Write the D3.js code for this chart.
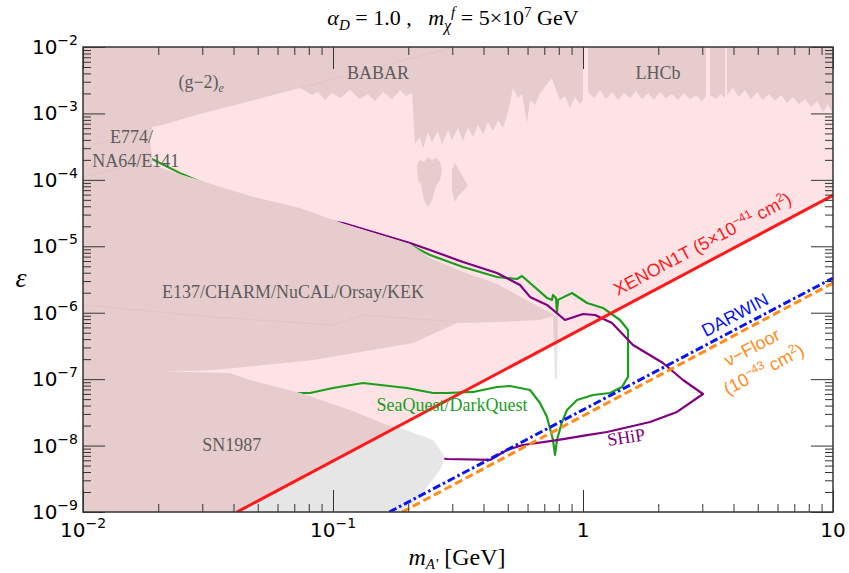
<!DOCTYPE html>
<head>
<meta charset="utf-8">
<style>
  body { margin: 0; background: #fff; }
  .region-label { font-family: "Liberation Serif", serif; font-size: 18px; fill: #5c5c5c; }
  .tick-label { font-family: "DejaVu Sans", sans-serif; font-size: 20px; fill: #000; }
  .line-label { font-family: "Liberation Sans", sans-serif; font-size: 18px; }
</style>
<script src="https://d3js.org/d3.v7.min.js"></script>
</head>
<body>
<svg width="849" height="573"></svg>
<script>
// ---- data: [m_A' (GeV), epsilon] ----
var xenon1t = [[0.0413, 1e-9], [10, 5.86e-5]];
var darwin  = [[0.168, 1e-9], [10, 3.33e-6]];
var nuFloor = [[0.189, 1e-9], [10, 2.8e-6]];

var xenonRegion = [[0.0413, 1e-9], [10, 5.86e-5], [10, 1e-2], [0.01, 1e-2], [0.01, 1e-9]];

var seaquest = [[0.0169,2.54e-4],[0.0182,2.21e-4],[0.0249,1.22e-4],[0.0466,4.49e-5],[0.0887,2.17e-5],
  [0.1406,1.58e-5],[0.2032,1.05e-5],[0.2443,7.40e-6],[0.3311,4.88e-6],[0.4529,3.45e-6],[0.5445,3.22e-6],
  [0.5702,3.57e-6],[0.7178,1.67e-6],[0.7516,1.56e-6],[0.7586,1.85e-6],[0.7798,1.67e-6],[0.787,1.03e-6],
  [0.7943,1.56e-6],[0.9036,1.98e-6],[1.038,1.40e-6],[1.202,1.18e-6],[1.406,7.77e-7],[1.514,5.50e-7],
  [1.514,1.08e-7],[1.432,7.62e-8],[1.282,6.19e-8],[1.096,5.77e-8],[0.9462,4.85e-8],[0.863,3.44e-8],
  [0.8241,2.26e-8],[0.787,1.21e-8],[0.7727,7.22e-9],[0.7586,1.21e-8],[0.7178,2.69e-8],[0.673,4.38e-8],
  [0.6138,6.87e-8],[0.5105,7.88e-8],[0.4529,7.62e-8],[0.3631,6.41e-8],[0.2858,6.19e-8],[0.2512,6.19e-8],
  [0.1977,7.36e-8],[0.1318,8.75e-8],[0.1,7.36e-8],[0.0809,6.19e-8],[0.056,6.19e-8]];

var ship = [[0.0738,2.86e-5],[0.1096,2.24e-5],[0.2032,1.12e-5],[0.2443,8.79e-6],[0.3311,5.80e-6],
  [0.4529,3.96e-6],[0.5598,2.61e-6],[0.6138,1.73e-6],[0.7178,1.31e-6],[0.8472,7.77e-7],[1.0,9.57e-7],
  [1.117,9.24e-7],[1.306,7.00e-7],[1.585,3.27e-7],[2.089,1.75e-7],[2.512,9.70e-8],[3.02,5.97e-8],
  [2.377,3.21e-8],[1.854,2.26e-8],[1.247,1.60e-8],[1.038,1.44e-8],[0.787,1.21e-8],[0.5754,1.02e-8],
  [0.4966,8.59e-9],[0.4246,6.07e-9],[0.2858,6.28e-9],[0.2679,6.50e-9]];

// (g-2)e + BABAR
var g2Babar = [[0.01,1e-2],[0.01,6.25e-4],[0.0189,6.25e-4],[0.0207,6.7e-4],[0.0294,9.8e-4],[0.0466,1.54e-3],
  [0.0738,2.42e-3],[0.0824,1.89e-3],[0.0871,2.10e-3],[0.0929,1.59e-3],[0.0991,2.03e-3],[0.1067,1.71e-3],
  [0.1169,2.25e-3],[0.1282,1.65e-3],[0.138,1.96e-3],[0.1472,1.54e-3],[0.1585,2.10e-3],[0.1722,1.65e-3],
  [0.1854,2.25e-3],[0.1959,1.83e-3],[0.207,2.03e-3],[0.2128,3.59e-4],[0.2228,4.27e-4],[0.2291,3.02e-4],
  [0.2399,5.25e-4],[0.2489,3.72e-4],[0.263,5.44e-4],[0.2729,3.35e-4],[0.2884,5.64e-4],[0.2992,3.98e-4],
  [0.3162,6.04e-4],[0.3311,3.85e-4],[0.3467,6.25e-4],[0.3631,4.42e-4],[0.3802,6.70e-4],[0.3981,4.90e-4],
  [0.4169,7.43e-4],[0.4365,5.44e-4],[0.4571,7.96e-4],[0.4786,6.04e-4],[0.5012,1.05e-3],[0.5248,2.42e-3],
  [0.5495,1.71e-3],[0.5702,1.96e-3],[0.597,7.18e-4],[0.6138,1.59e-3],[0.6427,1.34e-3],[0.673,2.03e-3],
  [0.7516,3.41e-3],[0.7798,2.25e-3],[0.8091,1.59e-3],[0.8472,1.83e-3],[0.8872,1.21e-3],[0.929,1.77e-3],
  [0.9727,1.39e-3],[1.0,1.59e-3],[1.0,1e-2]];
var babarIslandA = [[0.2168,1.67e-4],[0.2228,1.99e-4],[0.2312,1.86e-4],[0.2399,2.21e-4],[0.2489,1.99e-4],
  [0.2582,2.13e-4],[0.2679,1.86e-4],[0.2729,1.41e-4],[0.2679,9.95e-5],[0.2582,8.09e-5],[0.2489,4.98e-5],
  [0.2399,3.90e-5],[0.2312,4.98e-5],[0.2249,8.37e-5],[0.2188,9.95e-5]];
var babarIslandB = [[0.2992,1.41e-4],[0.3076,1.79e-4],[0.3162,1.51e-4],[0.3467,8.09e-5],[0.3162,5.71e-5],
  [0.3076,4.64e-5],[0.2992,7.03e-5]];

// LHCb
var lhcbA = [[1.047,1e-2],[1.047,2.10e-3],[1.107,1.71e-3],[1.169,2.25e-3],[1.236,1.65e-3],[1.306,2.10e-3],
  [1.38,1.59e-3],[1.459,2.03e-3],[1.542,1.71e-3],[1.629,2.18e-3],[1.722,1.65e-3],[1.82,2.03e-3],
  [1.923,1.59e-3],[2.032,2.10e-3],[2.148,1.71e-3],[2.27,1.96e-3],[2.399,1.59e-3],[2.535,2.03e-3],
  [2.679,1.65e-3],[2.831,1.89e-3],[2.992,1.54e-3],[3.105,1.83e-3],[3.105,1e-2]];
var lhcbB = [[3.221,1e-2],[3.221,1.89e-3],[3.4,1.65e-3],[3.55,1.96e-3],[3.698,1.71e-3],[3.698,1e-2]];
var lhcbC = [[3.767,1e-2],[3.767,1.89e-3],[3.981,2.42e-3],[4.207,1.77e-3],[4.446,2.25e-3],[4.699,1.65e-3],
  [4.966,2.10e-3],[5.248,1.59e-3],[5.546,1.96e-3],[5.861,1.54e-3],[6.194,1.89e-3],[6.546,1.44e-3],
  [6.918,1.77e-3],[7.311,1.39e-3],[7.727,1.65e-3],[8.166,1.25e-3],[8.63,1.54e-3],[9.12,1.05e-3],
  [9.55,1.39e-3],[10,9.47e-4],[10,1e-2]];

// E774/NA64/E141 + E137/CHARM/NuCAL/Orsay/KEK
var beamDump = [[0.01,6.70e-4],[0.0189,6.25e-4],[0.0185,3.98e-4],[0.0189,2.37e-4],[0.0189,1.67e-4],
  [0.0249,1.18e-4],[0.0466,5.71e-5],[0.0738,3.77e-5],[0.1096,2.20e-5],[0.2032,1.08e-5],[0.2443,6.67e-6],
  [0.3311,4.10e-6],[0.4529,2.70e-6],[0.6138,1.45e-6],[0.7727,9.24e-7],[0.673,7.77e-7],[0.4656,7.25e-7],
  [0.3133,7.00e-7],[0.2089,3.50e-7],[0.0832,1.94e-7],[0.0331,1.37e-7],[0.01,1.16e-7]];
var sn1987 = [[0.01,1.37e-7],[0.0387,1.24e-7],[0.0466,9.70e-8],[0.0738,6.19e-8],[0.1169,3.44e-8],
  [0.1644,2.04e-8],[0.1854,1.84e-8],[0.2512,1.21e-8],[0.2805,6.73e-9],[0.2679,4.29e-9],[0.2168,1.52e-9],
  [0.1854,1e-9],[0.01,1e-9]];
var spike = [[0.7586,8.93e-7],[0.7943,8.93e-7],[0.787,1.04e-7],[0.7727,9.7e-8]];

var overlapLines = [
  [[0.01,3.02e-4],[0.0189,6.04e-4]],
  [[0.01,1.10e-4],[0.0189,1.99e-4]],
  [[0.01,1.31e-6],[0.0331,8.63e-7],[0.1,6.53e-7],[0.1318,9.24e-7],[0.3133,7.25e-7]],
  [[0.0738,2.42e-3],[0.2938,9.66e-3]]];

var xTicks = [0.01, 0.1, 1, 10];
var xTickText = [["10","−2"],["10","−1"],["1",""],["10",""]];
var yTicks = [1e-9, 1e-8, 1e-7, 1e-6, 1e-5, 1e-4, 1e-3, 1e-2];
var yTickExp = ["−9","−8","−7","−6","−5","−4","−3","−2"];

// ---- setup ----
var svg = d3.select("svg");
var x = d3.scaleLog().domain([0.01, 10]).range([83, 833]);
var y = d3.scaleLog().domain([1e-9, 1e-2]).range([512, 47]);
var line = d3.line().x(function(d) { return x(d[0]); }).y(function(d) { return y(d[1]); });
var poly = function(d) { return line(d) + "Z"; };

var defs = svg.append("defs");
defs.append("clipPath").attr("id", "plotClip").append("rect")
  .attr("x", 83).attr("y", 47).attr("width", 750).attr("height", 465);
defs.append("clipPath").attr("id", "xeClip").append("path").attr("d", poly(xenonRegion));

var plot = svg.append("g").attr("clip-path", "url(#plotClip)");

plot.append("path").attr("d", poly(xenonRegion)).attr("fill", "#fde3e5");

// projection curves sit under the excluded regions
plot.append("path").attr("d", line(seaquest)).attr("fill", "none")
  .attr("stroke", "#1c9e1c").attr("stroke-width", 2.2).attr("stroke-linejoin", "round");
plot.append("path").attr("d", line(ship)).attr("fill", "none")
  .attr("stroke", "#800080").attr("stroke-width", 2.2).attr("stroke-linejoin", "round");

var regions = [g2Babar, babarIslandA, babarIslandB, lhcbA, lhcbB, lhcbC, beamDump, sn1987, spike];
plot.append("g").selectAll("path").data(regions).join("path")
  .attr("d", poly).attr("fill", "#e6e6e6");
var mauve = plot.append("g").attr("clip-path", "url(#xeClip)");
mauve.selectAll("path").data(regions).join("path")
  .attr("d", poly).attr("fill", "#e7ccce");
mauve.selectAll("path.ov").data(overlapLines).join("path").attr("class", "ov")
  .attr("d", line).attr("fill", "none").attr("stroke", "#dfc3c6").attr("stroke-width", 1);

plot.append("path").attr("d", line(xenon1t)).attr("stroke", "#ff1a1a").attr("stroke-width", 3).attr("fill", "none");
plot.append("path").attr("d", line(darwin)).attr("stroke", "#0a14f0").attr("stroke-width", 3)
  .attr("stroke-dasharray", "8,3,2.5,3").attr("fill", "none");
plot.append("path").attr("d", line(nuFloor)).attr("stroke", "#ff8c1a").attr("stroke-width", 3)
  .attr("stroke-dasharray", "8,4").attr("fill", "none");

// ---- text helpers ----
function rich(text, parts) {
  var cur = 0;
  parts.forEach(function(p) {
    var off = p.off || 0;
    var ts = text.append("tspan").attr("dy", off - cur).text(p.t);
    cur = off;
    if (p.fs) ts.attr("font-size", p.fs);
    if (p.it) ts.attr("font-style", "italic");
  });
}

function onLine(seg, m) {
  var a = seg[0], b = seg[1];
  var k = Math.log(b[1] / a[1]) / Math.log(b[0] / a[0]);
  return [x(m), y(a[1] * Math.pow(m / a[0], k))];
}
function lineAngle(seg) {
  return Math.atan2(y(seg[1][1]) - y(seg[0][1]), x(seg[1][0]) - x(seg[0][0])) * 180 / Math.PI;
}
function lineLabel(seg, m, dy, color, parts, fs) {
  var p = onLine(seg, m);
  var t = svg.append("text").attr("class", "line-label")
    .attr("transform", "translate(" + p[0] + "," + p[1] + ") rotate(" + lineAngle(seg) + ")")
    .attr("text-anchor", "middle").attr("y", dy).attr("fill", color)
    .style("white-space", "pre");
  if (fs) t.attr("font-size", fs);
  rich(t, parts);
}

lineLabel(xenon1t, 3.25, -12, "#ff1a1a",
  [{t:"XENON1T (5×10"},{t:"−41",off:-7,fs:12},{t:" cm"},{t:"2",off:-7,fs:12},{t:")"}]);
lineLabel(darwin, 4.29, -7, "#0a14f0", [{t:"DARWIN"}], 17);
lineLabel(nuFloor, 4.37, 25, "#ff8c1a", [{t:"ν−Floor"}], 17);
lineLabel(nuFloor, 4.37, 50, "#ff8c1a",
  [{t:"(10"},{t:"−43",off:-7,fs:12},{t:" cm"},{t:"2",off:-7,fs:12},{t:")"}], 17);

// region labels
var regionLabels = [
  {m:0.0297, e:2.42e-3, a:"middle", parts:[{t:"(g−2)"},{t:"e",off:4,fs:12,it:true}]},
  {m:0.1514, e:3.30e-3, a:"middle", parts:[{t:"BABAR"}]},
  {m:1.995, e:3.30e-3, a:"middle", parts:[{t:"LHCb"}]},
  {m:0.01282, e:3.59e-4, a:"start", parts:[{t:"E774/"}]},
  {m:0.0109, e:1.56e-4, a:"start", parts:[{t:"NA64/E141"}]},
  {m:0.0692, e:1.67e-6, a:"middle", parts:[{t:"E137/CHARM/NuCAL/Orsay/KEK"}]},
  {m:0.0394, e:8.28e-9, a:"middle", parts:[{t:"SN1987"}]}
];
regionLabels.forEach(function(d) {
  var t = svg.append("text").attr("class", "region-label")
    .attr("x", x(d.m)).attr("y", y(d.e)).attr("text-anchor", d.a);
  rich(t, d.parts);
});

svg.append("text").attr("class", "region-label").attr("x", x(0.2992)).attr("y", y(3.32e-8))
  .attr("text-anchor", "middle").style("fill", "#1c9e1c").text("SeaQuest/DarkQuest");
svg.append("text").attr("class", "region-label")
  .attr("transform", "translate(" + x(1.5) + "," + y(1.09e-8) + ") rotate(-9)")
  .attr("text-anchor", "middle").style("fill", "#800080").text("SHiP");

// ---- axes ----
function isMajor(v) { var l = Math.log10(v); return Math.abs(l - Math.round(l)) < 1e-6; }
var axisColor = "#333";

function styleAxis(g, attr, sign) {
  g.select(".domain").remove();
  g.selectAll(".tick line").attr("stroke", axisColor)
    .attr(attr, function(d) { return sign * (isMajor(d) ? 22 : 8); });
}

svg.append("g").attr("transform", "translate(0,512)")
  .call(d3.axisBottom(x).tickValues(x.ticks()).tickSize(-8).tickFormat(""))
  .call(styleAxis, "y2", -1);
svg.append("g").attr("transform", "translate(0,47)")
  .call(d3.axisTop(x).tickValues(x.ticks()).tickSize(-8).tickFormat(""))
  .call(styleAxis, "y2", 1);
svg.append("g").attr("transform", "translate(83,0)")
  .call(d3.axisLeft(y).tickValues(y.ticks()).tickSize(-8).tickFormat(""))
  .call(styleAxis, "x2", 1);
svg.append("g").attr("transform", "translate(833,0)")
  .call(d3.axisRight(y).tickValues(y.ticks()).tickSize(-8).tickFormat(""))
  .call(styleAxis, "x2", -1);

svg.append("rect").attr("x", 83).attr("y", 47).attr("width", 750).attr("height", 465)
  .attr("fill", "none").attr("stroke", axisColor).attr("stroke-width", 1.5);

xTicks.forEach(function(v, i) {
  var t = svg.append("text").attr("class", "tick-label")
    .attr("x", x(v)).attr("y", 537).attr("text-anchor", "middle");
  var parts = [{t: xTickText[i][0]}];
  if (xTickText[i][1]) parts.push({t: xTickText[i][1], off:-9, fs:14});
  rich(t, parts);
});
yTicks.forEach(function(v, i) {
  var t = svg.append("text").attr("class", "tick-label")
    .attr("x", 78).attr("y", y(v) + 7).attr("text-anchor", "end");
  rich(t, [{t:"10"},{t:yTickExp[i], off:-9, fs:14}]);
});

// axis titles
svg.append("text").attr("x", 21).attr("y", 287).attr("text-anchor", "middle")
  .style("font-family", "Liberation Serif, serif").style("font-size", "28px").style("font-style", "italic")
  .text("ε");
var xt = svg.append("text").attr("x", 457).attr("y", 565).attr("text-anchor", "middle")
  .style("font-family", "Liberation Serif, serif").style("font-size", "24px").style("white-space", "pre");
rich(xt, [{t:"m", it:true},{t:"A'", off:4, fs:15, it:true},{t:" [GeV]"}]);

// title
var title = svg.append("text").attr("x", 453).attr("y", 25).attr("text-anchor", "middle")
  .style("font-family", "Liberation Serif, serif").style("font-size", "22px").style("white-space", "pre");
rich(title, [{t:"α", it:true},{t:"D", off:5, fs:15, it:true},{t:" = 1.0 ,   "},{t:"m", it:true},
  {t:"χ", off:6, fs:16, it:true},{t:"f", off:-8, fs:15, it:true},{t:" = 5×10"},{t:"7", off:-8, fs:15},{t:" GeV"}]);
</script>
</body>
